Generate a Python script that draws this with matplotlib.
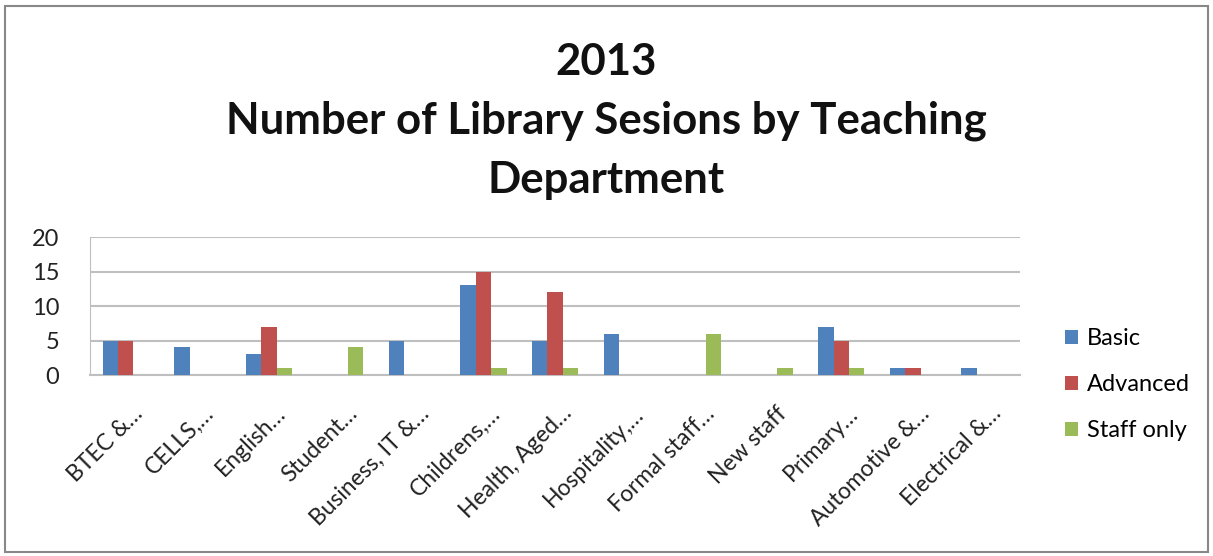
import matplotlib.pyplot as plt
import numpy as np
from matplotlib.patches import Rectangle
from matplotlib.transforms import ScaledTranslation

CATEGORIES = [
    "BTEC &…",
    "CELLS,…",
    "English…",
    "Student…",
    "Business, IT &…",
    "Childrens,…",
    "Health, Aged…",
    "Hospitality,…",
    "Formal staff…",
    "New staff",
    "Primary…",
    "Automotive &…",
    "Electrical &…",
]

BASIC = [5, 4, 3, 0, 5, 13, 5, 6, 0, 0, 7, 1, 1]
ADVANCED = [5, 0, 7, 0, 0, 15, 12, 0, 0, 0, 5, 1, 0]
STAFF_ONLY = [0, 0, 1, 4, 0, 1, 1, 0, 6, 1, 1, 0, 0]

SERIES_NAMES = ["Basic", "Advanced", "Staff only"]
COLORS = ["#4F81BD", "#C0504D", "#9BBB59"]

TITLE = "2013\nNumber of Library Sesions by Teaching\nDepartment"


def main():
    plt.rcParams["font.family"] = ["Lato", "DejaVu Sans"]

    fig = plt.figure(figsize=(12.13, 5.56), dpi=100)
    ax = fig.add_axes([0.0742, 0.3255, 0.7668, 0.2482])

    x = np.arange(len(CATEGORIES))
    width = 0.215
    for i, (vals, name, color) in enumerate(zip([BASIC, ADVANCED, STAFF_ONLY], SERIES_NAMES, COLORS)):
        ax.bar(x + (i - 1) * width, vals, width, color=color, label=name, zorder=3)

    ax.set_xlim(-0.5, len(CATEGORIES) - 0.5)
    ax.set_ylim(0, 20)
    ax.set_yticks([0, 5, 10, 15, 20])
    ax.yaxis.grid(True, color="#BFBFBF", linewidth=1.5)
    ax.set_axisbelow(True)
    for side in ["top", "right"]:
        ax.spines[side].set_visible(False)
    ax.spines["left"].set_color("#BFBFBF")
    ax.spines["bottom"].set_color("#BFBFBF")
    ax.spines["bottom"].set_linewidth(1.5)
    ax.tick_params(axis="y", length=0, labelsize=17, pad=22, labelcolor="#222222")
    ax.tick_params(axis="x", length=0, pad=20)
    ax.set_xticks(x)
    ax.set_xticklabels(CATEGORIES, rotation=45, ha="right", va="top",
                       rotation_mode="anchor", fontsize=16.5, color="#222222")
    # nudge labels right so the ellipsis sits just past each category
    shift = ScaledTranslation(6 / 100, 0, fig.dpi_scale_trans)
    for lbl in ax.get_xticklabels():
        lbl.set_transform(lbl.get_transform() + shift)

    ax.legend(loc="center left", bbox_to_anchor=(1.025, -0.07), frameon=False,
              fontsize=17, handlelength=0.55, handleheight=0.55, labelspacing=1.05,
              handletextpad=0.4)

    fig.text(0.5, 0.925, TITLE, ha="center", va="top", fontsize=31.5,
             fontweight="bold", linespacing=1.58, color="#111111")

    fig.patches.append(Rectangle((0.004, 0.008), 0.992, 0.982, transform=fig.transFigure,
                                 fill=False, edgecolor="#888888", linewidth=1.5))

    fig.savefig("out.png", dpi=100)
    plt.close(fig)


if __name__ == "__main__":
    main()
